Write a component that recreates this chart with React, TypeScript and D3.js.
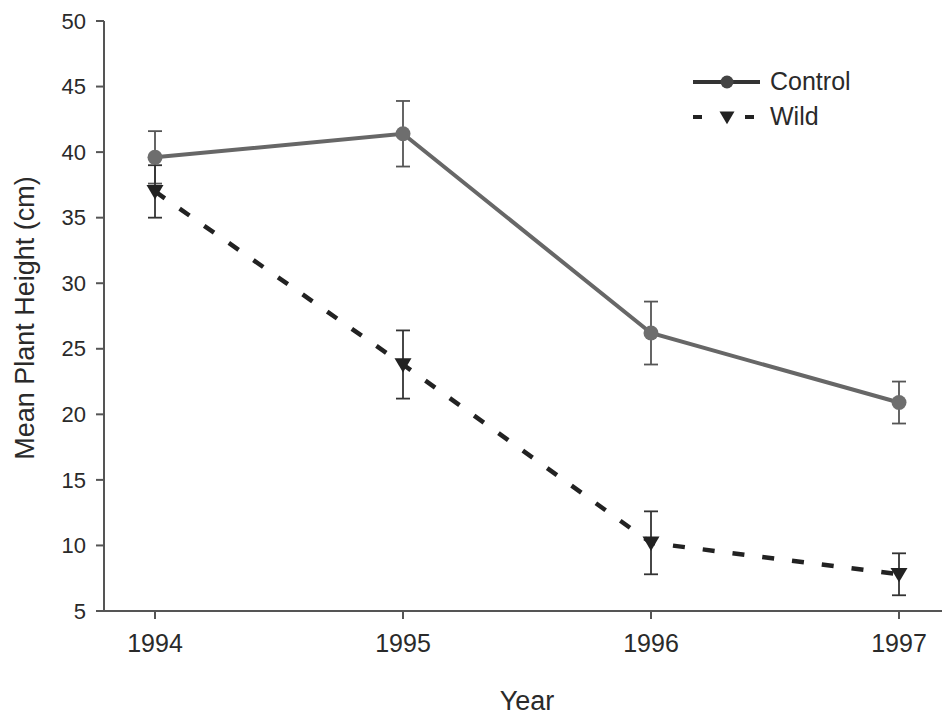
import React from "react";
import * as d3 from "d3";

const years = [1994, 1995, 1996, 1997];
const controlMean = [39.6, 41.4, 26.2, 20.9];
const controlErr = [2.0, 2.5, 2.4, 1.6];
const wildMean = [37.0, 23.8, 10.2, 7.8];
const wildErr = [2.0, 2.6, 2.4, 1.6];
const yTicks = [5, 10, 15, 20, 25, 30, 35, 40, 45, 50];
const legendLabels = ["Control", "Wild"];

export default function App() {
  const W = 942, H = 715;
  const x = d3.scalePoint<number>().domain(years).range([155, 899]);
  const y = d3.scaleLinear().domain([5, 50]).range([611, 21]);
  const axisColor = "#555";
  const font = "Arial, 'Liberation Sans', sans-serif";

  const ctrlLine = d3.line<number>().x((_, i) => x(years[i])!).y((d) => y(d));
  const wildLine = d3.line<number>().x((_, i) => x(years[i])!).y((d) => y(d));

  const tri = (cx: number, cy: number, s: number) =>
    `M${cx - s},${cy - s * 0.75} L${cx + s},${cy - s * 0.75} L${cx},${cy + s * 0.95} Z`;

  const errBar = (cx: number, m: number, e: number, color: string, key: string) => (
    <g key={key} stroke={color} strokeWidth={1.8}>
      <line x1={cx} x2={cx} y1={y(m + e)} y2={y(m - e)} />
      <line x1={cx - 7} x2={cx + 7} y1={y(m + e)} y2={y(m + e)} />
      <line x1={cx - 7} x2={cx + 7} y1={y(m - e)} y2={y(m - e)} />
    </g>
  );

  return (
    <svg width={W} height={H} style={{ display: "block", position: "absolute", left: 0, top: 0 }} fontFamily={font}>
      <rect width={W} height={H} fill="#fff" />
      {/* axes */}
      <line x1={104} x2={104} y1={21} y2={612} stroke={axisColor} strokeWidth={2} />
      <line x1={103} x2={942} y1={611} y2={611} stroke={axisColor} strokeWidth={2} />
      {yTicks.map((t) => (
        <g key={t}>
          <line x1={96} x2={104} y1={y(t)} y2={y(t)} stroke={axisColor} strokeWidth={2} />
          <text x={86} y={y(t)} dy="0.35em" textAnchor="end" fontSize={22} fill="#2a2a2a">
            {t}
          </text>
        </g>
      ))}
      {years.map((yr) => (
        <g key={yr}>
          <line x1={x(yr)!} x2={x(yr)!} y1={611} y2={619} stroke={axisColor} strokeWidth={2} />
          <text x={x(yr)!} y={652} textAnchor="middle" fontSize={25} fill="#2a2a2a">
            {yr}
          </text>
        </g>
      ))}
      <text x={527} y={710} textAnchor="middle" fontSize={27} fill="#2a2a2a">Year</text>
      <text
        transform="translate(34,318) rotate(-90)"
        textAnchor="middle"
        fontSize={27}
        fill="#2a2a2a"
      >
        Mean Plant Height (cm)
      </text>

      {/* error bars */}
      {years.map((yr, i) => errBar(x(yr)!, controlMean[i], controlErr[i], "#555", "ce" + i))}
      {years.map((yr, i) => errBar(x(yr)!, wildMean[i], wildErr[i], "#333", "we" + i))}

      {/* lines */}
      <path d={wildLine(wildMean)!} fill="none" stroke="#222" strokeWidth={4.5} strokeDasharray="12 18" />
      <path d={ctrlLine(controlMean)!} fill="none" stroke="#676767" strokeWidth={4} />

      {/* markers */}
      {years.map((yr, i) => (
        <circle key={"c" + i} cx={x(yr)!} cy={y(controlMean[i])} r={7.5} fill="#6e6e6e" />
      ))}
      {years.map((yr, i) => (
        <path key={"w" + i} d={tri(x(yr)!, y(wildMean[i]), 8.5)} fill="#222" />
      ))}

      {/* legend */}
      <g>
        <line x1={693} x2={760} y1={82} y2={82} stroke="#333" strokeWidth={4} />
        <circle cx={727} cy={82} r={6.5} fill="#444" />
        <text x={770} y={90} fontSize={25} fill="#2a2a2a">{legendLabels[0]}</text>
        <line x1={693} x2={702} y1={117} y2={117} stroke="#222" strokeWidth={4} />
        <line x1={745} x2={754} y1={117} y2={117} stroke="#222" strokeWidth={4} />
        <path d={tri(727, 117, 7.5)} fill="#222" />
        <text x={770} y={125} fontSize={25} fill="#2a2a2a">{legendLabels[1]}</text>
      </g>
    </svg>
  );
}
